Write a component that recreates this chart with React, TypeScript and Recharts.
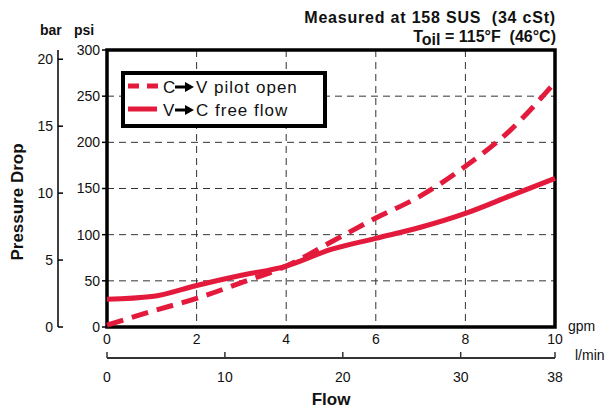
import React from 'react'
import {
  LineChart, Line, XAxis, YAxis, CartesianGrid, ReferenceArea,
} from 'recharts'

// flow in gpm and pressure drop in psi
const flowGpm = [0, 1, 2, 3, 4, 5, 6, 7, 8, 9, 10]
const pilotOpenPsi = [2, 17, 31, 48, 66, 92, 118, 142, 174, 213, 265]
const freeFlowPsi = [30, 33, 45, 56, 66, 84, 96, 108, 123, 142, 161]

const psiTicks = [0, 50, 100, 150, 200, 250, 300]
const barTicks = [0, 5, 10, 15, 20]
const gpmTicks = [0, 2, 4, 6, 8, 10]
const lminTicks = [0, 10, 20, 30, 38]

const seriesNames = ['C', 'V pilot open', 'V', 'C free flow']

const RED = '#E31A3C'
const FONT = '"Liberation Sans", Arial, Helvetica, sans-serif'
const PSI_PER_BAR = 14.5
const LMIN_PER_GPM = 3.8

const data = flowGpm.map((g, i) => ({ gpm: g, pilot: pilotOpenPsi[i], free: freeFlowPsi[i] }))

const BarTick = (props: any) => {
  const { x, y, payload } = props
  return (
    <g>
      <line x1={x} x2={x + 5} y1={y} y2={y} stroke="#000" strokeWidth={1.5} />
      <text x={x - 5} y={y} dy="0.35em" textAnchor="end" fontSize={14} fill="#111" fontFamily={FONT}>
        {payload.value}
      </text>
    </g>
  )
}

// l/min axis shares the gpm scale; ticks drawn upward like the reference
const LminTick = (props: any) => {
  const { x, y, payload } = props
  return (
    <g>
      <line x1={x} x2={x} y1={y - 6} y2={y} stroke="#333" strokeWidth={1.5} />
      <text x={x} y={y + 24} textAnchor="middle" fontSize={14} fill="#111" fontFamily={FONT}>
        {Math.round(payload.value * LMIN_PER_GPM)}
      </text>
    </g>
  )
}

const Arrow = ({ x, y }: { x: number; y: number }) => (
  <g>
    <line x1={x} x2={x + 12} y1={y} y2={y} stroke="#000" strokeWidth={3} />
    <polygon points={`${x + 10},${y - 5} ${x + 19},${y} ${x + 10},${y + 5}`} fill="#000" />
  </g>
)

export default function App() {
  return (
    <div style={{ position: 'absolute', left: 0, top: 0, width: 609, height: 410, fontFamily: FONT, background: '#fff' }}>
      <LineChart width={609} height={410} data={data} margin={{ top: 50, right: 54, bottom: 22, left: 18 }}>
        <CartesianGrid stroke="#333" strokeDasharray="7 5" strokeWidth={1} />
        <XAxis
          dataKey="gpm" type="number" domain={[0, 10]} ticks={gpmTicks}
          axisLine={false} tickLine={false} tickSize={0} tickMargin={7} height={31}
          tick={{ fontSize: 14, fill: '#111' }}
        />
        <XAxis
          xAxisId="lmin" dataKey="gpm" type="number" domain={[0, 10]}
          ticks={lminTicks.map(l => l / LMIN_PER_GPM)} interval={0}
          axisLine={{ stroke: '#333', strokeWidth: 2 }} tickLine={false} tickSize={0} tickMargin={0}
          height={30} tick={<LminTick />}
        />
        <YAxis
          type="number" domain={[0, 300]} ticks={psiTicks} width={49}
          axisLine={false} tickLine={{ stroke: '#000', strokeWidth: 1.5 }} tickSize={5} tickMargin={2}
          tick={{ fontSize: 14, fill: '#111' }}
        />
        <YAxis
          yAxisId="bar" type="number" domain={[0, 300 / PSI_PER_BAR]} ticks={barTicks} allowDataOverflow
          width={40} axisLine={{ stroke: '#000', strokeWidth: 1.5 }} tickLine={false} tickSize={0} tickMargin={0}
          tick={<BarTick />}
        />
        <ReferenceArea x1={0} x2={10} y1={0} y2={300} fill="none" stroke="#000" strokeWidth={3.5} fillOpacity={0} />
        <Line
          type="monotone" dataKey="free" stroke={RED} strokeWidth={5} dot={false}
          isAnimationActive={false}
        />
        <Line
          type="monotone" dataKey="pilot" stroke={RED} strokeWidth={5} strokeDasharray="17 9" dot={false}
          isAnimationActive={false}
        />
      </LineChart>

      <svg width={609} height={410} style={{ position: 'absolute', left: 0, top: 0, pointerEvents: 'none' }}>
        <g fontFamily={FONT} fill="#111">
          <text x={556} y={23} textAnchor="end" fontSize={16} fontWeight="bold" letterSpacing={0.8} style={{ whiteSpace: 'pre' }}>
            Measured at 158 SUS  (34 cSt)
          </text>
          <text x={556} y={42} textAnchor="end" fontSize={16} fontWeight="bold" style={{ whiteSpace: 'pre' }}>
            T<tspan dy={3}>oil</tspan><tspan dy={-3}> = 115°F  (46°C)</tspan>
          </text>

          <text x={40} y={35} fontSize={14} fontWeight="bold">bar</text>
          <text x={74} y={35} fontSize={14} fontWeight="bold">psi</text>
          <text x={568} y={331} fontSize={14}>gpm</text>
          <text x={575} y={360} fontSize={14}>l/min</text>
          <text x={331} y={405} textAnchor="middle" fontSize={17} fontWeight="bold">Flow</text>
          <text x={23} y={202} textAnchor="middle" fontSize={17} fontWeight="bold" transform="rotate(-90 23 202)">Pressure Drop</text>

          {/* legend */}
          <rect x={123} y={73} width={202} height={53} fill="#fff" stroke="#000" strokeWidth={4} />
          <line x1={128} x2={158} y1={86} y2={86} stroke={RED} strokeWidth={5} strokeDasharray="11 8" />
          <text x={163} y={93} fontSize={17}>{seriesNames[0]}</text>
          <Arrow x={175} y={87} />
          <text x={196} y={93} fontSize={17} letterSpacing={1}>{seriesNames[1]}</text>
          <line x1={128} x2={157} y1={109} y2={109} stroke={RED} strokeWidth={5} />
          <text x={163} y={116} fontSize={17}>{seriesNames[2]}</text>
          <Arrow x={175} y={110} />
          <text x={196} y={116} fontSize={17} letterSpacing={1}>{seriesNames[3]}</text>
        </g>
      </svg>
    </div>
  )
}
